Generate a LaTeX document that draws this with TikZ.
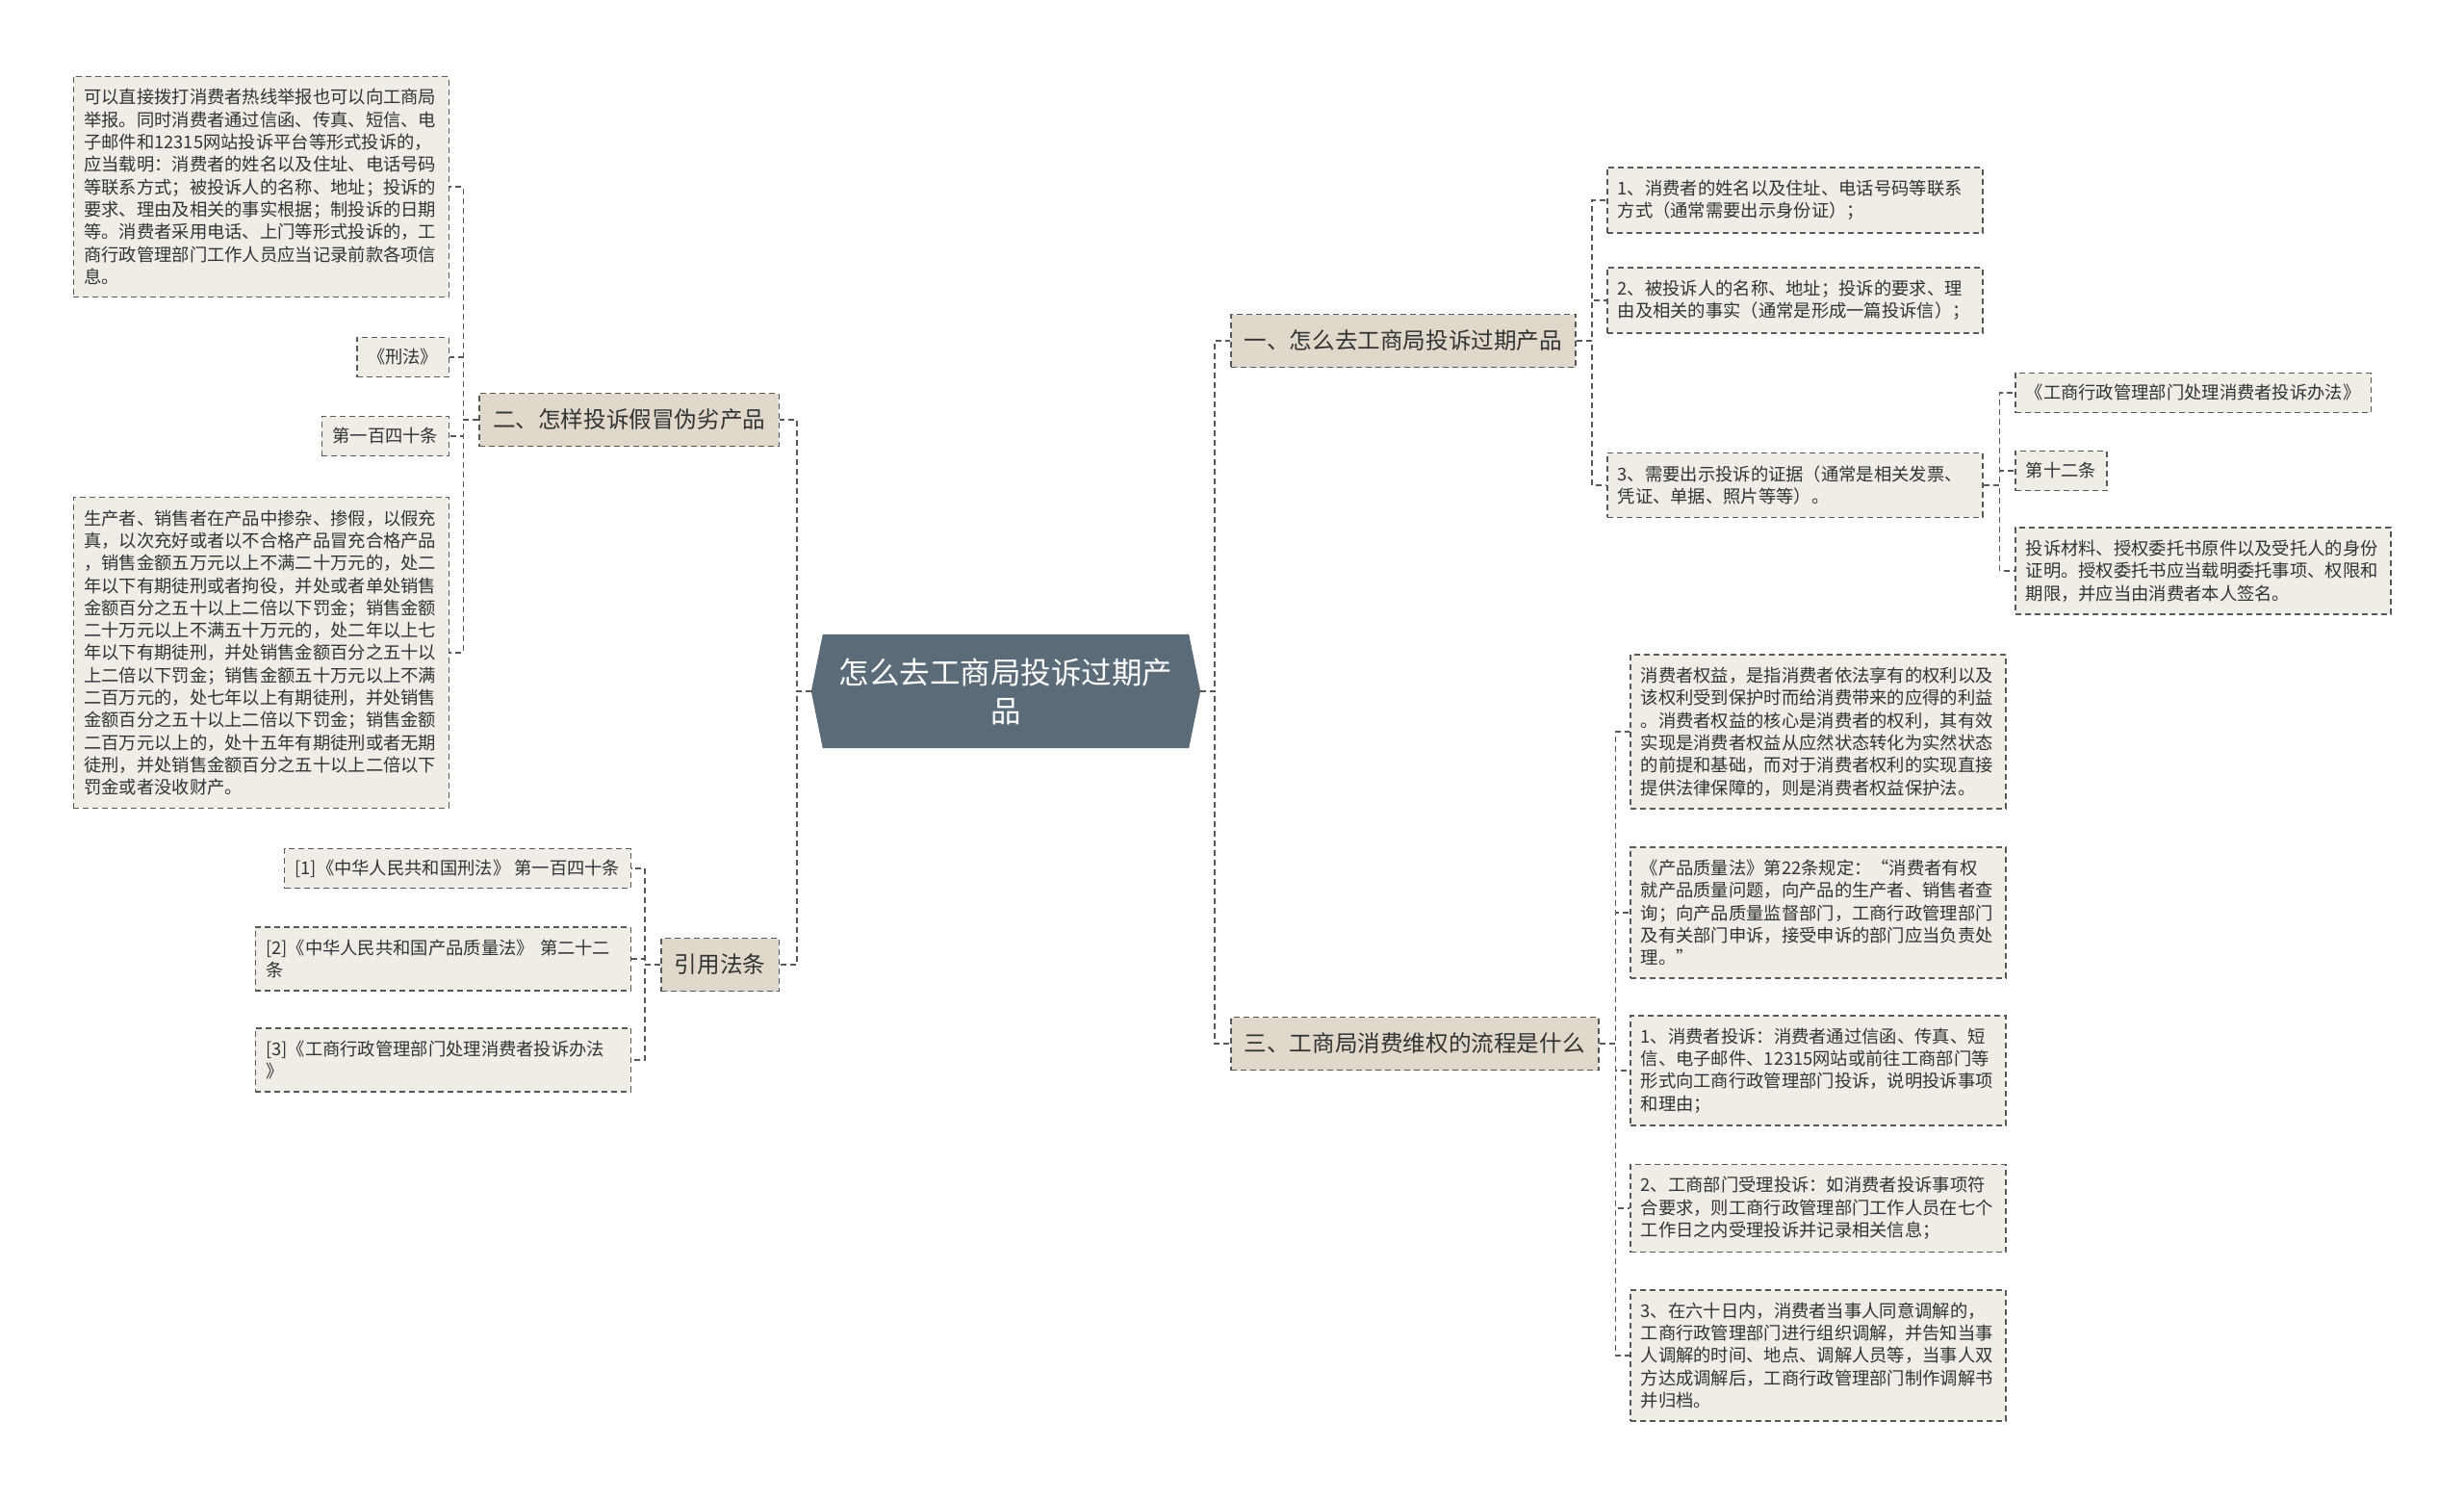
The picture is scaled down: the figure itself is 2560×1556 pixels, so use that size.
\documentclass[tikz,border=0pt]{standalone}
\usepackage{fontspec}
\setmainfont{Noto Sans CJK SC}
\usetikzlibrary{backgrounds}

\definecolor{rootfill}{RGB}{91,107,120}
\definecolor{topicfill}{RGB}{224,216,203}
\definecolor{leaffill}{RGB}{240,237,230}
\definecolor{edgegray}{RGB}{88,88,88}
\definecolor{inkgray}{RGB}{51,51,51}

\tikzset{
  boxline/.style={draw=edgegray, line width=1.5pt, dash pattern=on 6pt off 4pt},
  topic/.style={boxline, fill=topicfill, text=inkgray, inner xsep=14pt, inner ysep=0pt, minimum height=55pt, font=\fontsize{23.6}{28}\selectfont},
  leaf/.style={boxline, fill=leaffill, text=inkgray, inner xsep=11pt, inner ysep=13pt, font=\fontsize{18.3}{23.3}\selectfont},
  para/.style={leaf, text width=368pt, align=left},
  tag/.style={leaf, inner ysep=0pt, minimum height=41pt},
  link/.style={boxline}
}

\begin{document}
\begin{tikzpicture}[x=1pt,y=1pt,yscale=-1,xscale=1]
\useasboundingbox (0,0) rectangle (2560,1556);

% Root
\node [minimum width=404pt, minimum height=118pt, inner sep=0pt, text=white, align=center, font=\fontsize{31.5}{40}\selectfont] (root) at (1045,718) {怎么去工商局投诉过期产\\品};
\begin{scope}[on background layer]
\fill [rootfill] ([xshift=12pt]root.north west) -- ([xshift=-12pt]root.north east) -- (root.east) -- ([xshift=-12pt]root.south east) -- ([xshift=12pt]root.south west) -- (root.west) -- cycle;
\end{scope}

% Topics
\node [topic, anchor=west] (r1) at (1278,354) {一、怎么去工商局投诉过期产品};
\node [topic, anchor=west] (r2) at (1278,1084) {三、工商局消费维权的流程是什么};
\node [topic, anchor=east] (l1) at (810,436) {二、怎样投诉假冒伪劣产品};
\node [topic, anchor=east] (l2) at (810,1002) {引用法条};

% Text Node: left upper
\node [para, anchor=east] (b1) at (467,194) {可以直接拨打消费者热线举报也可以向工商局\\举报。同时消费者通过信函、传真、短信、电\\子邮件和12315网站投诉平台等形式投诉的，\\应当载明：消费者的姓名以及住址、电话号码\\等联系方式；被投诉人的名称、地址；投诉的\\要求、理由及相关的事实根据；制投诉的日期\\等。消费者采用电话、上门等形式投诉的，工\\商行政管理部门工作人员应当记录前款各项信\\息。};
\node [tag, anchor=east] (b2) at (467,371) {《刑法》};
\node [tag, anchor=east] (b3) at (467,453) {第一百四十条};
\node [para, anchor=east] (b4) at (467,678) {生产者、销售者在产品中掺杂、掺假，以假充\\真，以次充好或者以不合格产品冒充合格产品\\，销售金额五万元以上不满二十万元的，处二\\年以下有期徒刑或者拘役，并处或者单处销售\\金额百分之五十以上二倍以下罚金；销售金额\\二十万元以上不满五十万元的，处二年以上七\\年以下有期徒刑，并处销售金额百分之五十以\\上二倍以下罚金；销售金额五十万元以上不满\\二百万元的，处七年以上有期徒刑，并处销售\\金额百分之五十以上二倍以下罚金；销售金额\\二百万元以上的，处十五年有期徒刑或者无期\\徒刑，并处销售金额百分之五十以上二倍以下\\罚金或者没收财产。};

% Text Node: references
\node [tag, anchor=east] (d1) at (656,902) {[1]《中华人民共和国刑法》 第一百四十条};
\node [para, anchor=east] (d2) at (656,996) {[2]《中华人民共和国产品质量法》 第二十二\\条};
\node [para, anchor=east] (d3) at (656,1101) {[3]《工商行政管理部门处理消费者投诉办法\\》};

% Text Node: right upper
\node [para, anchor=west] (a1) at (1669,208) {1、消费者的姓名以及住址、电话号码等联系\\方式（通常需要出示身份证）；};
\node [para, anchor=west] (a2) at (1669,312) {2、被投诉人的名称、地址；投诉的要求、理\\由及相关的事实（通常是形成一篇投诉信）；};
\node [para, anchor=west] (a3) at (1669,504) {3、需要出示投诉的证据（通常是相关发票、\\凭证、单据、照片等等）。};
\node [tag, anchor=west] (e1) at (2093,408) {《工商行政管理部门处理消费者投诉办法》};
\node [tag, anchor=west] (e2) at (2093,489) {第十二条};
\node [para, anchor=west] (e3) at (2093,593) {投诉材料、授权委托书原件以及受托人的身份\\证明。授权委托书应当载明委托事项、权限和\\期限，并应当由消费者本人签名。};

% Text Node: right lower
\node [para, anchor=west] (c1) at (1693,760) {消费者权益，是指消费者依法享有的权利以及\\该权利受到保护时而给消费带来的应得的利益\\。消费者权益的核心是消费者的权利，其有效\\实现是消费者权益从应然状态转化为实然状态\\的前提和基础，而对于消费者权利的实现直接\\提供法律保障的，则是消费者权益保护法。};
\node [para, anchor=west] (c2) at (1693,948) {《产品质量法》第22条规定：“消费者有权\\就产品质量问题，向产品的生产者、销售者查\\询；向产品质量监督部门，工商行政管理部门\\及有关部门申诉，接受申诉的部门应当负责处\\理。”};
\node [para, anchor=west] (c3) at (1693,1112) {1、消费者投诉：消费者通过信函、传真、短\\信、电子邮件、12315网站或前往工商部门等\\形式向工商行政管理部门投诉，说明投诉事项\\和理由；};
\node [para, anchor=west] (c4) at (1693,1255) {2、工商部门受理投诉：如消费者投诉事项符\\合要求，则工商行政管理部门工作人员在七个\\工作日之内受理投诉并记录相关信息；};
\node [para, anchor=west] (c5) at (1693,1408) {3、在六十日内，消费者当事人同意调解的，\\工商行政管理部门进行组织调解，并告知当事\\人调解的时间、地点、调解人员等，当事人双\\方达成调解后，工商行政管理部门制作调解书\\并归档。};

% Connectors
\foreach \t in {r1,r2} \draw [link] (root.east) -- ++(15,0) |- (\t.west);
\foreach \t in {l1,l2} \draw [link] (root.west) -- ++(-15,0) |- (\t.east);
\foreach \t in {b1,b2,b3,b4} \draw [link] (l1.west) -- ++(-16,0) |- (\t.east);
\foreach \t in {d1,d2,d3} \draw [link] (l2.west) -- ++(-16,0) |- (\t.east);
\foreach \t in {a1,a2,a3} \draw [link] (r1.east) -- ++(16,0) |- (\t.west);
\foreach \t in {e1,e2,e3} \draw [link] (a3.east) -- ++(17,0) |- (\t.west);
\foreach \t in {c1,c2,c3,c4,c5} \draw [link] (r2.east) -- ++(17,0) |- (\t.west);

\end{tikzpicture}
\end{document}
